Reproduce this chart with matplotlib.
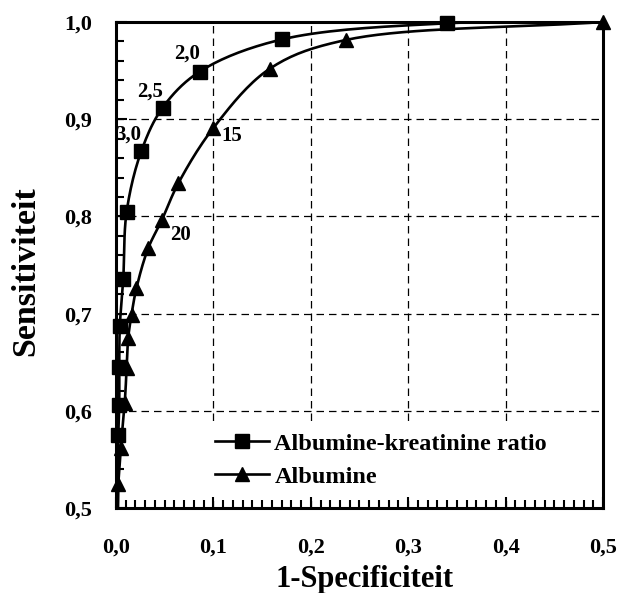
import matplotlib
matplotlib.use("Agg")
import numpy as np
import matplotlib.pyplot as plt
from matplotlib.lines import Line2D
from matplotlib.ticker import MultipleLocator, FuncFormatter

plt.rcParams.update({"font.family": "Liberation Serif", "font.weight": "bold"})

# ROC points (1-specificity, sensitivity)
AKR_X = [0.0024, 0.0034, 0.0034, 0.004, 0.0075, 0.011, 0.026, 0.048, 0.086, 0.170, 0.340, 0.5]
AKR_Y = [0.575, 0.606, 0.645, 0.687, 0.736, 0.805, 0.867, 0.912, 0.949, 0.982, 0.9987, 1.0]
ALB_X = [0.0024, 0.005, 0.009, 0.011, 0.0126, 0.016, 0.021, 0.033, 0.047, 0.064, 0.100,
         0.158, 0.236, 0.5]
ALB_Y = [0.525, 0.562, 0.608, 0.644, 0.675, 0.699, 0.726, 0.767, 0.796, 0.834, 0.891,
         0.952, 0.9815, 1.0]
# cut-off labels: (text, x, y)
CUTOFFS = [("2,0", 0.073, 0.968), ("2,5", 0.035, 0.928), ("3,0", 0.0123, 0.884),
           ("15", 0.119, 0.883), ("20", 0.066, 0.781)]

LW = 1.9
MS = 9.5


def smooth(xs, ys, n=20):
    """Centripetal Catmull-Rom through the points (for drawing only)."""
    p = np.column_stack([xs, ys]).astype(float)
    p = np.vstack([2 * p[0] - p[1], p, 2 * p[-1] - p[-2]])
    out = [p[1]]
    for i in range(1, len(p) - 2):
        p0, p1, p2, p3 = p[i - 1], p[i], p[i + 1], p[i + 2]
        d = lambda a, b: max(np.hypot(*(b - a)) ** 0.5, 1e-9)
        t0, t1 = 0.0, d(p0, p1)
        t2 = t1 + d(p1, p2)
        t3 = t2 + d(p2, p3)
        for t in np.linspace(t1, t2, n)[1:]:
            a1 = (t1 - t) / (t1 - t0) * p0 + (t - t0) / (t1 - t0) * p1
            a2 = (t2 - t) / (t2 - t1) * p1 + (t - t1) / (t2 - t1) * p2
            a3 = (t3 - t) / (t3 - t2) * p2 + (t - t2) / (t3 - t2) * p3
            b1 = (t2 - t) / (t2 - t0) * a1 + (t - t0) / (t2 - t0) * a2
            b2 = (t3 - t) / (t3 - t1) * a2 + (t - t1) / (t3 - t1) * a3
            out.append((t2 - t) / (t2 - t1) * b1 + (t - t1) / (t2 - t1) * b2)
    out = np.array(out)
    return out[:, 0], out[:, 1]


fig = plt.figure(figsize=(6.2, 5.93), dpi=100)
ax = fig.add_axes([0.187, 0.1433, 0.7856, 0.8196])

# lines (clipped, running down to the axis) then markers (unclipped)
for xs, ys in ((AKR_X, AKR_Y), (ALB_X, ALB_Y)):
    sx, sy = smooth(xs, ys)
    ax.plot(np.r_[0.0, sx], np.r_[0.3, sy], color="black", lw=LW, zorder=3)
ax.plot(AKR_X[:-1], AKR_Y[:-1], ls="none", marker="s", ms=MS, color="black",
        clip_on=False, zorder=4)
ax.plot(ALB_X, ALB_Y, ls="none", marker="^", ms=MS + 1, color="black",
        clip_on=False, zorder=4)

for txt, x, y in CUTOFFS:
    ax.text(x, y, txt, ha="center", va="center", fontsize=15, fontweight="bold")

ax.set_xlim(0, 0.5)
ax.set_ylim(0.5, 1.0)
ax.xaxis.set_major_locator(MultipleLocator(0.1))
ax.xaxis.set_minor_locator(MultipleLocator(0.01))
ax.yaxis.set_major_locator(MultipleLocator(0.1))
ax.yaxis.set_minor_locator(MultipleLocator(0.02))
comma = FuncFormatter(lambda v, _: f"{v:.1f}".replace(".", ","))
ax.xaxis.set_major_formatter(comma)
ax.yaxis.set_major_formatter(comma)
ax.tick_params(which="both", direction="in", width=1.5, labelsize=16)
ax.tick_params(which="major", length=8)
ax.tick_params(which="minor", length=6)
ax.tick_params(axis="x", which="major", pad=21)
ax.tick_params(axis="y", which="major", pad=17)
for lab in ax.get_xticklabels() + ax.get_yticklabels():
    lab.set_fontweight("bold")

ax.grid(which="major", color="black", ls=(0, (6, 4)), lw=0.9)
for sp in ax.spines.values():
    sp.set_linewidth(2.2)

handles = [Line2D([], [], color="black", lw=LW, marker="s", ms=MS),
           Line2D([], [], color="black", lw=LW, marker="^", ms=MS + 1)]
leg = ax.legend(handles, ["Albumine-kreatinine ratio", "Albumine"],
                loc="upper left", bbox_to_anchor=(0.183, 0.175), frameon=True,
                fancybox=False, edgecolor="none", facecolor="white", framealpha=1,
                prop={"weight": "bold", "size": 17.5}, handlelength=2.25,
                handletextpad=0.2, labelspacing=0.45, borderpad=0.4, borderaxespad=0)
leg.set_zorder(5)

fig.text(365 / 620, 1 - 587 / 593, "1-Specificiteit", ha="center", va="baseline",
         fontsize=22, fontweight="bold")
fig.text(26 / 620, 1 - 271 / 593, "Sensitiviteit", ha="center", va="center",
         rotation=90, fontsize=24.5, fontweight="bold")

fig.savefig("out.png", dpi=100, facecolor="white")
